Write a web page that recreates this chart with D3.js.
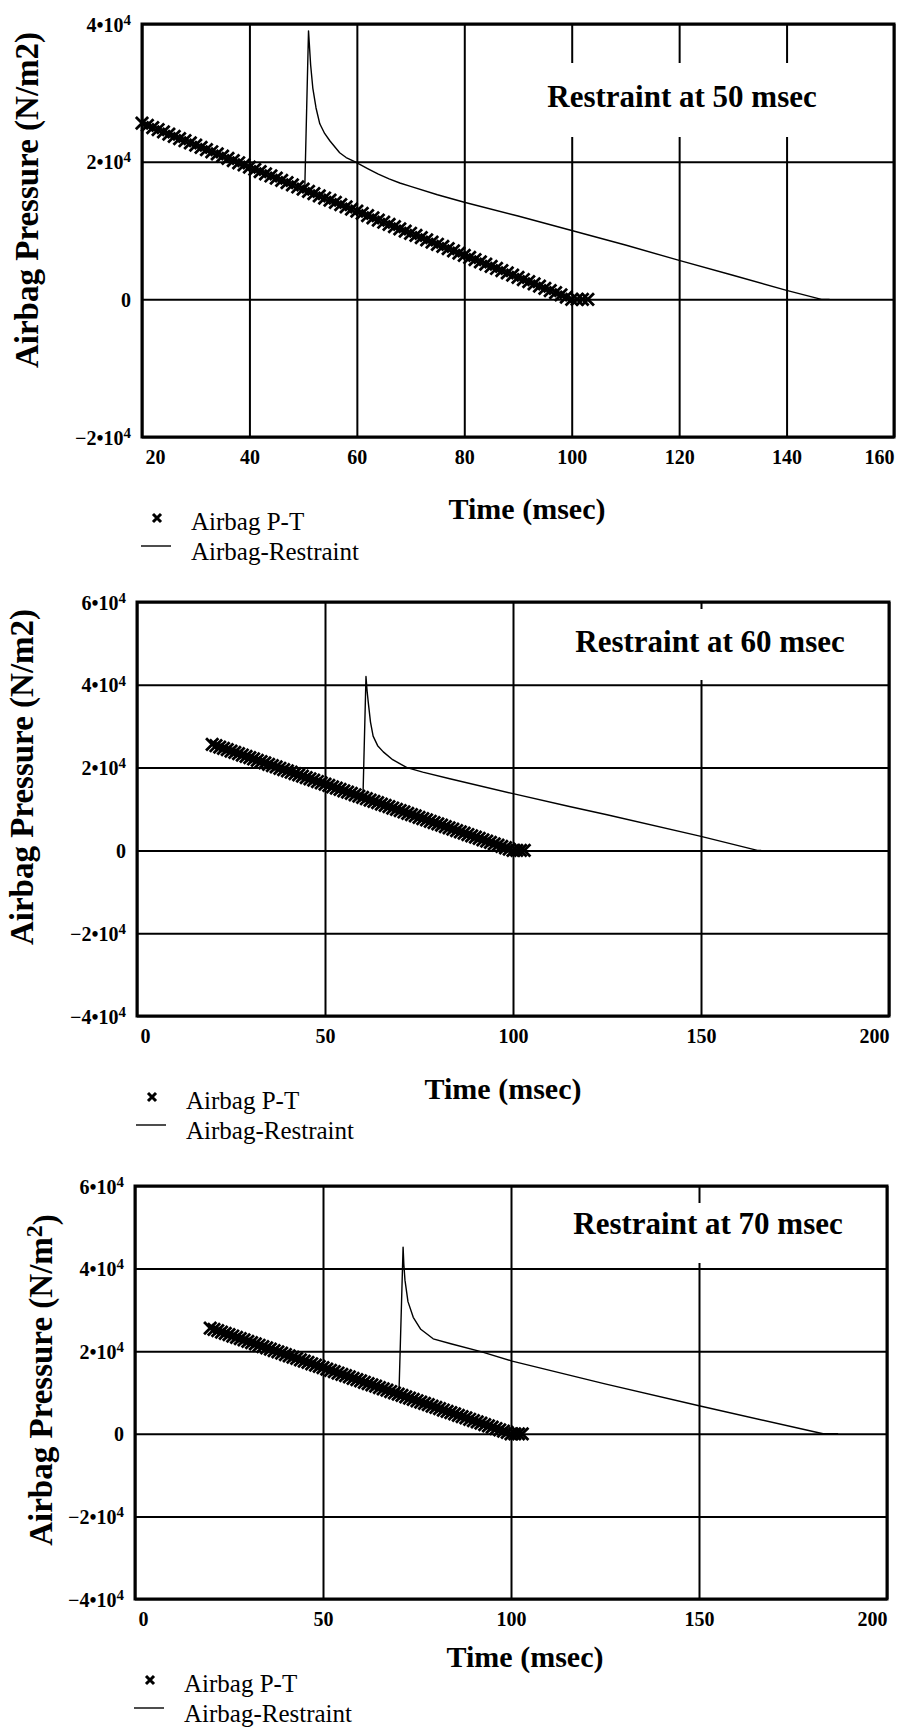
<!DOCTYPE html>
<html>
<head>
<meta charset="utf-8">
<script src="https://cdn.jsdelivr.net/npm/d3@7"></script>
<style>
  body { margin: 0; background: #fff; }
  svg text { font-family: "Liberation Serif", "Times New Roman", serif; fill: #000; }
</style>
</head>
<body>
<div id="chart"></div>
<script>
// Airbag P-T (same measured curve in all three panels), time in msec, pressure in N/m2
var ptTime = [20, 21, 22, 23, 24, 25, 26, 27, 28, 29, 30, 31, 32, 33, 34, 35, 36, 37, 38, 39,
  40, 41, 42, 43, 44, 45, 46, 47, 48, 49, 50, 51, 52, 53, 54, 55, 56, 57, 58, 59,
  60, 61, 62, 63, 64, 65, 66, 67, 68, 69, 70, 71, 72, 73, 74, 75, 76, 77, 78, 79,
  80, 81, 82, 83, 84, 85, 86, 87, 88, 89, 90, 91, 92, 93, 94, 95, 96, 97, 98, 99,
  100, 101, 102, 103];
var ptPressure = [25600, 25280, 24960, 24640, 24320, 24000, 23680, 23360, 23040, 22720,
  22400, 22080, 21760, 21440, 21120, 20800, 20480, 20160, 19840, 19520,
  19200, 18880, 18560, 18240, 17920, 17600, 17280, 16960, 16640, 16320,
  16000, 15680, 15360, 15040, 14720, 14400, 14080, 13760, 13440, 13120,
  12800, 12480, 12160, 11840, 11520, 11200, 10880, 10560, 10240, 9920,
  9600, 9280, 8960, 8640, 8320, 8000, 7680, 7360, 7040, 6720,
  6400, 6080, 5760, 5440, 5120, 4800, 4480, 4160, 3840, 3520,
  3200, 2880, 2560, 2240, 1920, 1600, 1280, 960, 640, 320,
  0, 0, 0, 0];

// Airbag-Restraint curves
var r50Time = [50.3, 51.0, 51.4, 51.8, 52.4, 53.1, 54, 55, 56.8, 58, 59.6, 62, 64, 66, 68, 70, 75, 80,
  90, 100, 110, 120, 130, 140, 146.5, 148];
var r50Pressure = [16000, 39000, 34000, 30700, 27800, 25500, 24100, 23000, 21300, 20600, 20000, 19000,
  18200, 17500, 16900, 16400, 15200, 14100, 12100, 10000, 7900, 5650, 3500, 1300, 0, 0];

var r60Time = [60.1, 60.9, 61.2, 61.5, 62.1, 62.8, 64, 65.5, 68, 71.8, 76, 83.2, 100, 115, 125, 150, 165, 166];
var r60Pressure = [13000, 42000, 38500, 35800, 31000, 27600, 25300, 23800, 21900, 20000, 18900, 17300,
  13700, 10600, 8600, 3400, 0, 0];

var r70Time = [70.2, 71.3, 71.5, 71.8, 72.6, 74, 76, 79.3, 84, 92, 100.3, 125, 150, 183, 187];
var r70Pressure = [9700, 45200, 41000, 37200, 32000, 28200, 25300, 23000, 21800, 19900, 17600, 12100,
  6800, 0, 0];

var xTicksA = [20, 40, 60, 80, 100, 120, 140, 160];
var xTicksB = [0, 50, 100, 150, 200];
var yTicksA = [-20000, 0, 20000, 40000];
var yTicksB = [-40000, -20000, 0, 20000, 40000, 60000];

var titles = ["Restraint at 50 msec", "Restraint at 60 msec", "Restraint at 70 msec"];
var legendLabels = ["Airbag P-T", "Airbag-Restraint"];
var xTitle = "Time (msec)";

var panels = [
  { left: 142, top: 24, width: 752, height: 413, xDomain: [20, 160], yDomain: [-20000, 40000],
    xTicks: xTicksA, yTicks: yTicksA, rTime: r50Time, rPressure: r50Pressure, title: titles[0],
    box: [398, 39, 290, 74], titleX: 540, titleY: 83,
    yTitleX: -104, yTitleY: 176, supUnit: false, xTitleX: 385, xTitleDy: 82 },
  { left: 137, top: 602, width: 752, height: 414, xDomain: [0, 200], yDomain: [-40000, 60000],
    xTicks: xTicksB, yTicks: yTicksB, rTime: r60Time, rPressure: r60Pressure, title: titles[1],
    box: [403, 7, 320, 71], titleX: 573, titleY: 50,
    yTitleX: -104, yTitleY: 175, supUnit: false, xTitleX: 366, xTitleDy: 83 },
  { left: 135, top: 1186, width: 752, height: 413, xDomain: [0, 200], yDomain: [-40000, 60000],
    xTicks: xTicksB, yTicks: yTicksB, rTime: r70Time, rPressure: r70Pressure, title: titles[2],
    box: [405, 17, 320, 60], titleX: 573, titleY: 48,
    yTitleX: -83, yTitleY: 194, supUnit: true, xTitleX: 390, xTitleDy: 68 }
];

var svg = d3.select("#chart").append("svg").attr("width", 901).attr("height", 1729);

panels.forEach(function (p) {
  var g = svg.append("g").attr("transform", "translate(" + p.left + "," + p.top + ")");
  var x = d3.scaleLinear().domain(p.xDomain).range([0, p.width]);
  var y = d3.scaleLinear().domain(p.yDomain).range([p.height, 0]);

  // grid lines
  g.append("g")
    .attr("class", "grid")
    .attr("transform", "translate(0," + p.height + ")")
    .call(d3.axisBottom(x).tickValues(p.xTicks).tickSize(-p.height).tickFormat(""));
  g.append("g")
    .attr("class", "grid")
    .call(d3.axisLeft(y).tickValues(p.yTicks).tickSize(-p.width).tickFormat(""));
  g.selectAll(".grid .domain").remove();
  g.selectAll(".grid line").attr("stroke", "#000").attr("stroke-width", 2);

  // title box
  g.append("rect")
    .attr("x", p.box[0]).attr("y", p.box[1])
    .attr("width", p.box[2]).attr("height", p.box[3])
    .attr("fill", "#fff");
  g.append("text")
    .attr("x", p.titleX).attr("y", p.titleY)
    .attr("text-anchor", "middle")
    .style("font-size", "31px").style("font-weight", "bold")
    .text(p.title);

  // frame
  g.append("rect")
    .attr("width", p.width).attr("height", p.height)
    .attr("fill", "none").attr("stroke", "#000").attr("stroke-width", 3);

  // Airbag P-T markers
  var sym = d3.symbol().type(d3.symbolX).size(100);
  g.append("g")
    .selectAll("path")
    .data(ptTime)
    .join("path")
    .attr("transform", function (d, i) {
      return "translate(" + x(d) + "," + y(ptPressure[i]) + ")";
    })
    .attr("d", sym)
    .attr("fill", "none")
    .attr("stroke", "#000")
    .attr("stroke-width", 2.8);

  // Airbag-Restraint line
  var line = d3.line()
    .x(function (d, i) { return x(d); })
    .y(function (d, i) { return y(p.rPressure[i]); });
  g.append("path")
    .attr("d", line(p.rTime))
    .attr("fill", "none")
    .attr("stroke", "#000")
    .attr("stroke-width", 1.4)
    .attr("stroke-linejoin", "round");

  // x tick labels
  var gx = g.append("g")
    .attr("transform", "translate(0," + p.height + ")")
    .call(d3.axisBottom(x).tickValues(p.xTicks).tickSize(0).tickPadding(13));
  gx.select(".domain").remove();
  gx.selectAll("text")
    .style("font-size", "20px").style("font-weight", "bold")
    .attr("text-anchor", function (d, i) {
      return i === 0 ? "start" : i === p.xTicks.length - 1 ? "end" : "middle";
    })
    .attr("x", function (d, i) {
      return i === 0 ? 3 : 0;
    });

  // y tick labels with superscript exponent
  var gy = g.append("g")
    .call(d3.axisLeft(y).tickValues(p.yTicks).tickSize(0).tickPadding(11).tickFormat(""));
  gy.select(".domain").remove();
  gy.selectAll("text").each(function (d) {
    var t = d3.select(this).attr("dy", "0.35em").style("font-size", "20px").style("font-weight", "bold");
    if (d === 0) {
      t.text("0");
      return;
    }
    var m = d / 10000;
    t.append("tspan").text((m < 0 ? "\u2212" : "") + Math.abs(m) + "\u202210");
    t.append("tspan").attr("dy", "-0.45em").style("font-size", "15px").text("4");
  });

  // axis titles
  g.append("text")
    .attr("x", p.xTitleX).attr("y", p.height + p.xTitleDy)
    .attr("text-anchor", "middle")
    .style("font-size", "30px").style("font-weight", "bold")
    .text(xTitle);

  var yt = g.append("text")
    .attr("transform", "translate(" + p.yTitleX + "," + p.yTitleY + ") rotate(-90)")
    .attr("text-anchor", "middle")
    .style("font-size", "33px").style("font-weight", "bold");
  if (p.supUnit) {
    yt.append("tspan").text("Airbag Pressure (N/m");
    yt.append("tspan").attr("dy", "-0.4em").style("font-size", "24px").text("2");
    yt.append("tspan").attr("dy", "0.4em").text(")");
  } else {
    yt.text("Airbag Pressure (N/m2)");
  }

  // legend
  var lg = g.append("g").attr("transform", "translate(0," + p.height + ")");
  lg.append("path")
    .attr("transform", "translate(15,81)")
    .attr("d", d3.symbol().type(d3.symbolX).size(44))
    .attr("fill", "none").attr("stroke", "#000").attr("stroke-width", 3);
  lg.append("text").attr("x", 49).attr("y", 93).style("font-size", "25px").text(legendLabels[0]);
  lg.append("line")
    .attr("x1", -1).attr("x2", 29).attr("y1", 109).attr("y2", 109)
    .attr("stroke", "#000").attr("stroke-width", 1.4);
  lg.append("text").attr("x", 49).attr("y", 123).style("font-size", "25px").text(legendLabels[1]);
});
</script>
</body>
</html>
